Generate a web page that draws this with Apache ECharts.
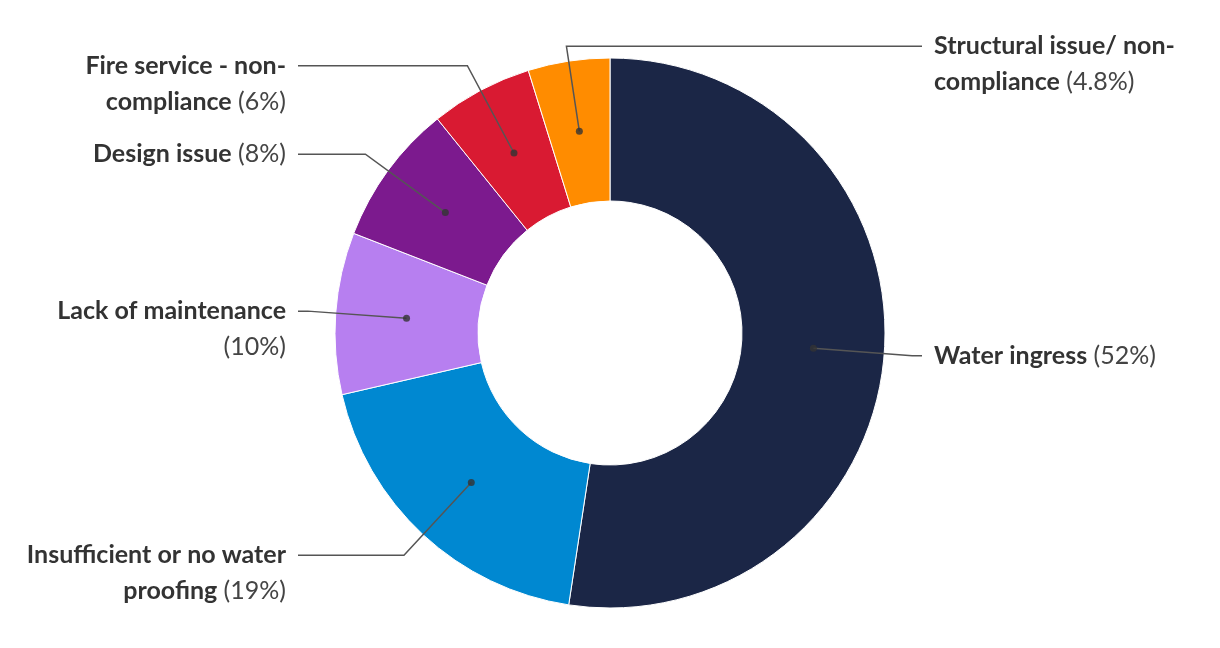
<!DOCTYPE html>
<html>
<head>
<meta charset="utf-8">
<script src="https://cdn.jsdelivr.net/npm/echarts@6/dist/echarts.min.js"></script>
<style>
  html, body { margin: 0; padding: 0; background: #fff; }
  #chart { width: 1220px; height: 648px; }
</style>
</head>
<body>
<div id="chart"></div>
<script>
// ---- data ----
const categories = ['Water ingress', 'Insufficient or no water proofing', 'Lack of maintenance', 'Design issue', 'Fire service - non-compliance', 'Structural issue/ non-compliance'];
const values = [52.4, 19, 9.5, 8.3, 6, 4.8];
// percentages as printed in the labels
const pctLabels = ['52%', '19%', '10%', '8%', '6%', '4.8%'];
// label text as wrapped in the reference (last line of each gets the percentage)
const labelWraps = [
  ['Water ingress'],
  ['Insufficient or no water', 'proofing'],
  ['Lack of maintenance', ''],
  ['Design issue'],
  ['Fire service - non-', 'compliance'],
  ['Structural issue/ non-', 'compliance']
];
const colors = ['#1b2646', '#0088d1', '#b77ff0', '#7c1a8e', '#d91a32', '#ff8c00'];

// ---- layout constants ----
const CENTER = ['50%', 333];
const R_IN = 132, R_OUT = 275, R_DOT = 204;
const LINE_LEN = 99, LINE_LEN2 = 10, R_END = 312, LABEL_GAP = 12, LINE_H = 36, FONT = 25;

const chart = echarts.init(document.getElementById('chart'), null, { renderer: 'canvas' });
const total = values.reduce((a, b) => a + b, 0);

function labelText(i) {
  const lines = labelWraps[i];
  const pct = '{p|(' + pctLabels[i] + ')}';
  const last = lines.length - 1;
  return lines.map((l, k) => {
    let s = l ? '{b|' + l + '}' : '';
    if (k === last) s += (l ? ' ' : '') + pct;
    return s;
  }).join('\n');
}

const pieData = categories.map((c, i) => ({ name: c, value: values[i], itemStyle: { color: colors[i] } }));
const labelData = categories.map((c, i) => {
  const d = {
    name: c, value: values[i],
    label: { formatter: labelText(i), padding: labelWraps[i].length > 1 ? [LINE_H, 0, 0, 0] : 0 }
  };
  if (i === categories.length - 1) d.labelLine = { length: 86 };
  return d;
});

let cum = 0;
const dotData = values.map(v => { const mid = cum + v / 2; cum += v; return [R_DOT, mid]; });

const option = {
  animation: false,
  backgroundColor: '#fff',
  polar: { center: CENTER, radius: R_OUT },
  angleAxis: { type: 'value', min: 0, max: total, startAngle: 90, clockwise: true, show: false },
  radiusAxis: { type: 'value', min: 0, max: R_OUT, show: false },
  series: [
    {
      type: 'pie', z: 1,
      center: CENTER, radius: [R_IN, R_OUT], startAngle: 90, clockwise: true,
      label: { show: false }, labelLine: { show: false },
      itemStyle: { borderColor: '#fff', borderWidth: 1 },
      emphasis: { disabled: true }, silent: true,
      data: pieData
    },
    {
      type: 'pie', z: 3,
      center: CENTER, radius: [R_DOT - 1, R_DOT], startAngle: 90, clockwise: true,
      avoidLabelOverlap: false,
      itemStyle: { color: 'rgba(0,0,0,0)', borderWidth: 0 },
      emphasis: { disabled: true }, silent: true,
      label: {
        show: true, position: 'outside',
        fontFamily: 'Lato', fontSize: FONT, color: '#333', lineHeight: LINE_H,
        rich: {
          b: { fontFamily: 'Lato', fontSize: FONT, fontWeight: 'bold', color: '#333', lineHeight: LINE_H },
          p: { fontFamily: 'Lato', fontSize: FONT, fontWeight: 'normal', color: '#444', lineHeight: LINE_H }
        }
      },
      labelLine: { show: true, length: LINE_LEN, length2: LINE_LEN2, smooth: false,
                   lineStyle: { color: '#555', width: 1.5 } },
      labelLayout: function (params) {
        const p = params.labelLinePoints;
        if (!p) return;
        const cx = chart.getWidth() / 2;
        const right = p[0][0] > cx - 50;
        const bend = p[1];
        const endX = cx + (right ? R_END : -R_END);
        return {
          x: endX + (right ? LABEL_GAP : -LABEL_GAP),
          y: bend[1],
          align: right ? 'left' : 'right',
          verticalAlign: 'middle',
          labelLinePoints: [p[0], [bend[0], bend[1]], [endX, bend[1]]]
        };
      },
      data: labelData
    },
    {
      type: 'scatter', coordinateSystem: 'polar', z: 4, silent: true,
      symbol: 'circle', symbolSize: 7,
      itemStyle: { color: '#333' },
      data: dotData
    }
  ]
};
chart.setOption(option);
</script>
</body>
</html>
